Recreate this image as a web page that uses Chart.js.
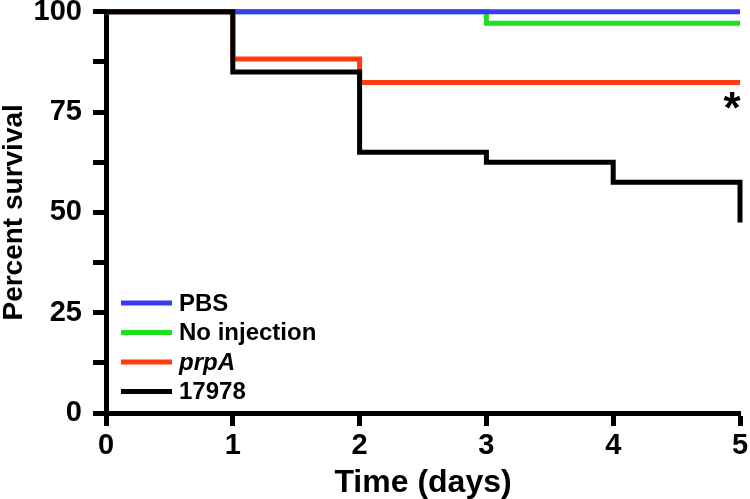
<!DOCTYPE html>
<html>
<head>
<meta charset="utf-8">
<script src="https://cdn.jsdelivr.net/npm/chart.js@4/dist/chart.umd.min.js"></script>
<style>
  html, body { margin: 0; padding: 0; background: #fff; }
  #wrap { width: 750px; height: 499px; }
</style>
</head>
<body>
<div id="wrap"><canvas id="c" width="750" height="499"></canvas></div>
<script>
// ---- data ----
const seriesLabels = ["PBS", "No injection", "prpA", "17978"];
const seriesColors = ["#3a3af5", "#1ee01e", "#ff3c0f", "#000000"];
const seriesOrder = [2, 3, 1, 0]; // drawing order (0 = on top)
const pbsTime = [0, 5];
const pbsSurvival = [100, 100];
const noInjTime = [0, 3, 5];
const noInjSurvival = [100, 97.1, 97.1];
const prpATime = [0, 1, 2, 5];
const prpASurvival = [100, 88.2, 82.35, 82.35];
const wtTime = [0, 1, 2, 3, 4, 5];
const wtSurvival = [100, 85, 65, 62.5, 57.5, 47.5];
const xTicks = [0, 1, 2, 3, 4, 5];
const yTickLabels = [0, 25, 50, 75, 100];
const annotationText = "*";

const FONT = "'Liberation Sans', Arial, Helvetica, sans-serif";
Chart.defaults.font.family = FONT;
Chart.defaults.color = "#000";

function pts(t, v) { return t.map((x, i) => ({ x: x, y: v[i] })); }
const allSeries = [[pbsTime, pbsSurvival], [noInjTime, noInjSurvival], [prpATime, prpASurvival], [wtTime, wtSurvival]];

const datasets = allSeries.map((s, i) => ({
  label: seriesLabels[i],
  data: pts(s[0], s[1]),
  borderColor: seriesColors[i],
  backgroundColor: seriesColors[i],
  borderWidth: 5,
  stepped: 'before',
  pointRadius: 0,
  fill: false,
  clip: false,
  order: seriesOrder[i],
  borderCapStyle: 'butt',
  borderJoinStyle: 'miter'
}));

const legendPlugin = {
  id: 'insideLegend',
  afterDraw(chart) {
    const ctx = chart.ctx;
    const a = chart.chartArea;
    const x0 = a.left + 15, len = 51, gap = 7, rowH = 29.5;
    const yStart = a.bottom - 110;
    ctx.save();
    ctx.textBaseline = 'middle';
    seriesLabels.forEach((lab, i) => {
      const y = yStart + i * rowH;
      ctx.strokeStyle = seriesColors[i];
      ctx.lineWidth = 5;
      ctx.beginPath();
      ctx.moveTo(x0, y);
      ctx.lineTo(x0 + len, y);
      ctx.stroke();
      ctx.fillStyle = '#000';
      ctx.font = (lab === 'prpA' ? 'italic ' : '') + 'bold 24px ' + FONT;
      ctx.fillText(lab, x0 + len + gap, y + 1);
    });
    // significance asterisk under the prpA curve end
    const xs = chart.scales.x, ys = chart.scales.y;
    ctx.font = 'bold 44px ' + FONT;
    ctx.textAlign = 'center';
    ctx.textBaseline = 'middle';
    const lastX = prpATime[prpATime.length - 1];
    const lastY = prpASurvival[prpASurvival.length - 1];
    ctx.fillText(annotationText, xs.getPixelForValue(lastX) - 8, ys.getPixelForValue(lastY) + 28);
    ctx.restore();
  }
};

new Chart(document.getElementById('c'), {
  type: 'line',
  data: { datasets: datasets },
  plugins: [legendPlugin],
  options: {
    responsive: false,
    animation: false,
    events: [],
    layout: { padding: { top: 0, right: 0, bottom: 0, left: 0 } },
    plugins: { legend: { display: false }, tooltip: { enabled: false } },
    scales: {
      x: {
        type: 'linear',
        min: 0, max: 5,
        afterBuildTicks: (s) => { s.ticks = xTicks.map(v => ({ value: v })); },
        afterFit: (s) => { s.paddingRight = 10; },
        border: { display: true, color: '#000', width: 5 },
        grid: { display: true, drawOnChartArea: false, drawTicks: true, tickLength: 13, tickWidth: 5, tickColor: '#000' },
        ticks: { font: { size: 29, weight: 'bold', lineHeight: 1 }, color: '#000', padding: 5, maxRotation: 0 },
        title: { display: true, text: 'Time (days)', font: { size: 32, weight: 'bold', lineHeight: 1 }, color: '#000', padding: { top: 2, bottom: 0 } }
      },
      y: {
        type: 'linear',
        min: 0, max: 100,
        afterFit: (s) => { s.width = 106; },
        ticks: {
          stepSize: 12.5,
          font: { size: 29, weight: 'bold', lineHeight: 0.05 }, color: '#000', padding: 11,
          callback: (v) => yTickLabels.includes(v) ? String(v) : ''
        },
        border: { display: true, color: '#000', width: 5 },
        grid: { display: true, drawOnChartArea: false, drawTicks: true, tickLength: 13, tickWidth: 5, tickColor: '#000' },
        title: { display: true, text: 'Percent survival', font: { size: 28, weight: 'bold', lineHeight: 1 }, color: '#000', padding: { top: 0, bottom: 0 } }
      }
    }
  }
});
</script>
</body>
</html>
